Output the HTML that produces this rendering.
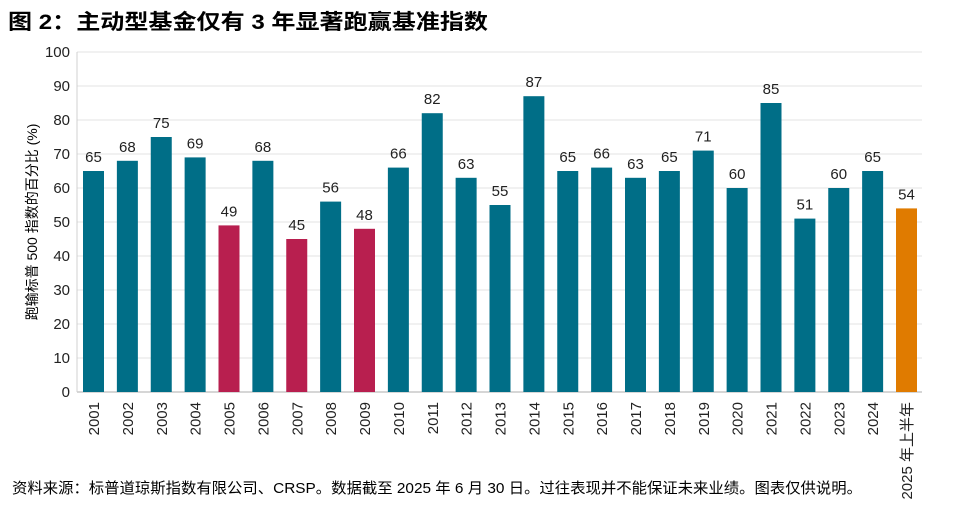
<!DOCTYPE html>
<html><head><meta charset="utf-8"><style>
body{margin:0;background:#fff;width:957px;height:508px;overflow:hidden}
text{font-family:"Liberation Sans","Noto Sans CJK SC",sans-serif}
</style></head><body>
<svg width="957" height="508" xmlns="http://www.w3.org/2000/svg">
<text x="8" y="29" font-size="21" font-weight="bold" fill="#000" textLength="480" lengthAdjust="spacingAndGlyphs">图 2：主动型基金仅有 3 年显著跑赢基准指数</text>
<g id="g"></g>
<text x="12" y="493" font-size="15" fill="#000" textLength="850" lengthAdjust="spacingAndGlyphs">资料来源：标普道琼斯指数有限公司、CRSP。数据截至 2025 年 6 月 30 日。过往表现并不能保证未来业绩。图表仅供说明。</text>
<text transform="translate(37,222) rotate(-90)" text-anchor="middle" font-size="14" fill="#000">跑输标普 500 指数的百分比 (%)</text>
</svg>
<script>
const g=document.getElementById('g');
let s='';
const y0=392,k=3.4,L=77,R=922;
for(let v=0;v<=100;v+=10){const y=y0-v*k;
 s+=`<line x1="${L}" x2="${R}" y1="${y}" y2="${y}" stroke="${v?'#e3e3e3':'#c8c8c8'}" stroke-width="${v?1:1.5}"/>`;
 s+=`<text x="70" y="${y+5}" text-anchor="end" font-size="15" fill="#222">${v}</text>`;}
s+=`<line x1="${L}" x2="${L}" y1="52" y2="392" stroke="#d0d0d0"/>`;
const vals=[65,68,75,69,49,68,45,56,48,66,82,63,55,87,65,66,63,65,71,60,85,51,60,65,54];
vals.forEach((v,i)=>{const x=83+i*33.875;let c='#006e87';
 if([4,6,8].includes(i))c='#b81f4f'; if(i==24)c='#e07b00';
 const y=y0-v*k;
 s+=`<rect x="${x}" y="${y}" width="21" height="${v*k}" fill="${c}"/>`;
 s+=`<text x="${x+10.5}" y="${y-9}" text-anchor="middle" font-size="15" fill="#222">${v}</text>`;
 const lab=i==24?'2025 年上半年':String(2001+i);
 s+=`<text transform="translate(${x+16},402) rotate(-90)" text-anchor="end" font-size="15" fill="#222">${lab}</text>`;
});
g.innerHTML=s;
</script>
</body></html>
